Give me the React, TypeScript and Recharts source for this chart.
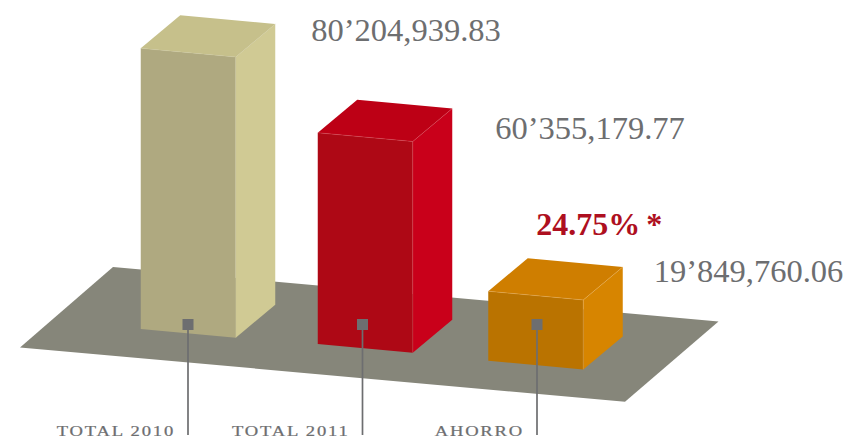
import React from "react";
import { BarChart, Bar, XAxis, YAxis, LabelList, Customized } from "recharts";

const categories = ["TOTAL 2010", "TOTAL 2011", "AHORRO"];
const values = [80204939.83, 60355179.77, 19849760.06];
const valueLabels = ["80’204,939.83", "60’355,179.77", "19’849,760.06"];
const savingsLabel = "24.75%";
const savingsMark = "*";

const data = categories.map((name, i) => ({ name, value: values[i], label: valueLabels[i] }));

// Perspective and styling
const W = 844, H = 439;
const DEPTH_X = 39.5, DEPTH_Y = -33, SKEW = 8.7;
const BAR_SHIFT = [{ dx: 0, dy: 0 }, { dx: 2.5, dy: 15 }, { dx: -1.5, dy: 31.7 }];
const LABEL_POS = [{ dx: 170.5, dy: -7.3 }, { dx: 180, dy: 21.5 }, { dx: 164, dy: 22.7 }];
const FACE = [
  { front: "#afa980", top: "#c6c08b", side: "#d0ca94", edge: "#c9c49a" },
  { front: "#ae0815", top: "#bd0015", side: "#c9001a", edge: "#d9505a" },
  { front: "#ba7300", top: "#cf7e00", side: "#d78500", edge: "#e8b060" },
];
const FLOOR = "20,347.4 113,267 718.5,321.4 625,401.8";
const GREY = "#6d6e70";
const SERIF = "'Liberation Serif', serif";

const Box = (props: any) => {
  const { x, y, width: w, height: h, index } = props;
  const s = BAR_SHIFT[index], c = FACE[index];
  const X = x + s.dx, Y = y + s.dy;
  const p = (pts: number[][]) => pts.map((q) => q.join(",")).join(" ");
  const fl: number[] = [X, Y], fr: number[] = [X + w, Y + SKEW];
  const bl: number[] = [X, Y + h], br: number[] = [X + w, Y + h + SKEW];
  const tb: number[] = [X + DEPTH_X, Y + DEPTH_Y], tr: number[] = [X + w + DEPTH_X, Y + SKEW + DEPTH_Y];
  const rb: number[] = [X + w + DEPTH_X, Y + h + SKEW + DEPTH_Y];
  return (
    <g>
      <polygon points={p([fl, fr, br, bl])} fill={c.front} />
      <polygon points={p([fl, tb, tr, fr])} fill={c.top} />
      <polygon points={p([fr, tr, rb, br])} fill={c.side} />
      <polyline points={p([fl, fr, tr])} fill="none" stroke={c.edge} strokeWidth={0.4} />
      <line x1={fr[0]} y1={fr[1]} x2={br[0]} y2={br[1]} stroke={c.edge} strokeWidth={0.4} />
    </g>
  );
};

const Tick = (props: any) => {
  const { x, y, payload } = props;
  return (
    <g>
      <line x1={x} y1={y - 5} x2={x} y2={y + 106} stroke={GREY} strokeWidth={1.7} />
      <rect x={x - 5.5} y={y - 10} width={11} height={11} fill={GREY} />
      <text
        transform={`translate(${x - 13},${y + 106.5}) scale(1.2,1)`}
        textAnchor="end"
        fontFamily={SERIF}
        fontSize={15.5}
        letterSpacing={1.5}
        stroke={GREY}
        strokeWidth={0.25}
        fill={GREY}
      >
        {payload.value}
      </text>
    </g>
  );
};

const ValueLabel = (props: any) => {
  const { x, y, value, index } = props;
  const s = LABEL_POS[index];
  const t = (
    <text x={x + s.dx} y={y + s.dy} fontFamily={SERIF} fontSize={32.5} fill={GREY}>
      {value}
    </text>
  );
  if (index !== 2) return t;
  return (
    <g>
      {t}
      <text x={x + 46.5} y={y - 25} fontFamily={SERIF} fontSize={32} fontWeight={700} fill="#ae0f20">
        {savingsLabel}
        <tspan dx={6}>{savingsMark}</tspan>
      </text>
    </g>
  );
};

const Floor = () => <polygon points={FLOOR} fill="#86867a" />;

export default function App() {
  return (
    <div style={{ position: "absolute", left: 0, top: 0 }}>
      <BarChart width={W} height={H} data={data} margin={{ top: 14, right: 219.75, bottom: 0, left: 100.75 }}>
        <Customized component={Floor} />
        <YAxis hide domain={[0, 90000000]} />
        <Bar dataKey="value" barSize={95} shape={Box} isAnimationActive={false}>
          <LabelList dataKey="label" content={ValueLabel} />
        </Bar>
        <XAxis dataKey="name" height={110} axisLine={false} tickLine={false} tickSize={0} tickMargin={0} interval={0} tick={Tick} />
      </BarChart>
    </div>
  );
}
